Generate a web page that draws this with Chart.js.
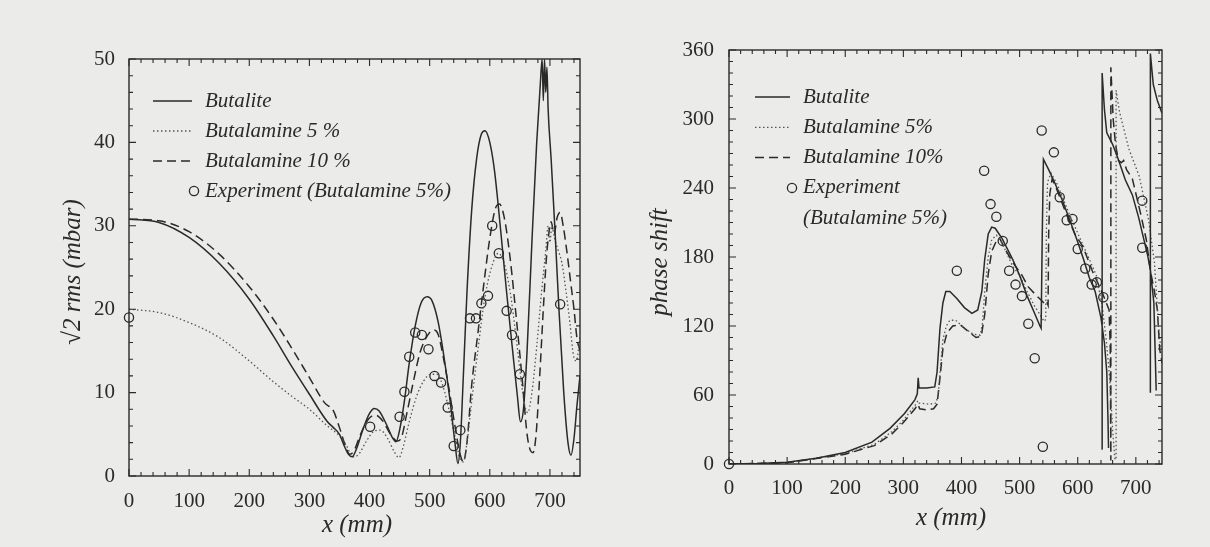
<!DOCTYPE html>
<html>
<head>
<meta charset="utf-8">
<script src="https://cdn.jsdelivr.net/npm/chart.js@4.4.1/dist/chart.umd.min.js"></script>
<style>
  html, body { margin: 0; padding: 0; background: #ebebea; }
  #wrap { position: relative; width: 1210px; height: 547px; overflow: hidden; }
  canvas { position: absolute; top: 0; }
  #amp { left: 0; }
  #phase { left: 600px; }
</style>
</head>
<body>
<div id="wrap">
  <canvas id="amp" width="600" height="547"></canvas>
  <canvas id="phase" width="610" height="547"></canvas>
</div>
<script>
// ---- amplitude panel, sqrt(2) rms in mbar vs x in mm ----
const ampButalite = [[0,30.8],[50,30.4],[100,28.6],[150,25.5],[200,21.2],[240,16.8],[270,13.2],[300,9.8],[330,6.5],[340,5.8],[350,5.0],[358,3.6],[365,2.6],[371,2.3],[378,3.2],[390,5.8],[400,7.5],[408,8.1],[416,7.8],[428,6.2],[438,4.6],[444,4.1],[450,5.5],[458,9],[466,13.5],[476,18],[486,20.8],[496,21.5],[504,21],[514,18.5],[524,14.2],[534,9],[542,4],[547,1.5],[551,4],[556,12],[562,22],[570,32],[578,38],[586,41],[592,41.4],[600,40],[608,36.5],[618,29.5],[628,22],[638,15],[646,9.5],[651,6.5],[656,8],[662,15],[670,28],[678,40],[684,47],[687,50],[689,45],[691,50],[693,46],[695,49],[697,44],[702,38],[708,30],[715,20],[723,10],[730,4],[735,2.5],[740,4.5],[745,8.5],[750,12]];
const ampButalamine5 = [[0,20],[50,19.6],[100,18.4],[150,16.6],[200,13.8],[240,11.3],[270,9.6],[300,8],[330,6],[350,4.8],[362,3.6],[372,2.3],[382,2.6],[395,4.2],[408,5.4],[418,5.5],[430,4.5],[442,2.8],[449,2.2],[456,3.5],[466,6.5],[478,9.5],[490,11.4],[502,12.2],[512,12.2],[522,10.8],[532,8],[542,4.8],[550,2.2],[556,1.7],[562,4],[570,9],[580,15],[592,21.5],[605,25.5],[614,26.7],[624,25.5],[634,22],[644,16.5],[652,11.5],[658,8.5],[663,7.6],[670,10],[678,15.5],[686,22],[693,27],[697,30],[700,28],[703,30],[708,28.4],[714,27],[720,25.5],[727,22],[733,18.5],[739,14.5],[744,13.8],[750,16.7]];
const ampButalamine10 = [[0,30.8],[50,30.6],[100,29.3],[150,26.6],[200,22.7],[240,18.8],[270,15.4],[300,11.8],[325,8.8],[340,7.8],[350,5.8],[360,3.6],[367,2.6],[374,3],[385,5],[398,6.8],[410,7.3],[422,6.6],[435,5],[446,4.2],[453,4.6],[462,7.5],[472,11],[484,14.8],[496,16.8],[506,17.5],[514,17],[522,14.5],[532,10.5],[542,6],[550,2.8],[556,1.7],[562,4],[570,11],[580,17],[590,23],[600,28.5],[609,32],[616,32.6],[624,31],[634,26],[644,19],[654,11.5],[662,5],[668,3],[672,2.8],[677,5],[683,12],[689,20],[694,26],[698,29],[702,30.5],[707,29],[712,31],[717,31.6],[722,30],[728,27],[734,23.5],[740,20],[745,16.5],[750,15]];
const ampExperiment = [[0,19],[401,5.9],[450,7.1],[458,10.1],[466,14.3],[476,17.2],[487,16.9],[498,15.2],[508,12],[519,11.2],[530,8.2],[540,3.6],[551,5.5],[567,18.9],[577,18.9],[586,20.7],[597,21.6],[604,30],[615,26.7],[628,19.8],[637,16.9],[650,12.2],[717,20.6]];

// ---- phase panel, degrees vs x in mm (null = pen up) ----
const phaseButalite = [[0,0],[50,0.4],[100,1.5],[150,5],[200,10],[246,19],[277,31],[302,44],[320,56],[324,61],[325.5,75],[327,66],[340,66],[354,67],[358,80],[363,118],[368,140],[373,150],[380,150],[392,144],[405,136],[418,131],[428,134],[435,150],[440,178],[446,200],[452,206],[458,205],[470,196],[488,178],[500,164],[513,146],[525,132],[535,120],[537,118],[539,200],[541,265],[550,256],[560,245],[573,230],[585,214],[600,193],[610,178],[620,162],[630,150],[640,127],[646,105],[650,80],[652,40],[653,14],[648,null],[643,13],[642,340],[646,308],[650,288],[660,278],[669,266],[682,247],[694,234],[705,214],[712,199],[720,182],[725,169],[731,140],[735,64],[730,null],[725,62],[725,357],[730,330],[737,316],[745,305]];
const phaseButalamine5 = [[0,0],[100,1.2],[200,9],[250,17],[280,28],[300,38],[320,51],[325,55],[327,53],[345,52],[356,53],[360,60],[364,85],[368,108],[374,120],[380,125],[390,125],[405,118],[420,113],[432,112],[436,122],[440,150],[446,180],[452,195],[460,199],[470,192],[488,172],[500,164],[513,150],[525,138],[535,130],[542,124],[545,126],[546,200],[548,245],[554,253],[565,243],[585,218],[605,195],[620,178],[632,164],[642,138],[649,108],[655,75],[660,30],[664,4],[666,4],[666,325],[672,306],[688,274],[706,250],[722,212],[732,175],[739,120],[743,100]];
const phaseButalamine10 = [[0,0],[100,1],[200,8.5],[250,16],[280,26],[300,36],[320,48],[325,52],[328,48],[340,47],[352,48],[358,52],[363,75],[368,100],[375,114],[385,120],[398,121],[410,116],[425,110],[434,111],[440,130],[446,165],[452,185],[460,194],[466,196],[476,186],[490,174],[503,165],[515,154],[526,148],[536,143],[542,140],[546,142],[549,138],[550,200],[552,235],[556,248],[563,240],[580,218],[595,200],[609,189],[625,168],[643,148],[654,134],[656,100],[657,3],[657,345],[661,300],[665,278],[670,264],[675,262],[679,264],[684,256],[694,248],[709,216],[718,195],[725,168],[732,150],[737,134],[741,100],[745,88]];
const phaseExperiment = [[0,0],[392,168],[439,255],[450,226],[460,215],[471,194],[482,168],[493,156],[504,146],[515,122],[526,92],[538,290],[540,15],[559,271],[569,232],[581,212],[591,213],[600,187],[613,170],[624,156],[633,158],[644,145],[711,229],[711,188]];

// ---- axis ticks ----
const xTicks = [0, 100, 200, 300, 400, 500, 600, 700];
const ampTicks = [0, 10, 20, 30, 40, 50];
const phaseTicks = [0, 60, 120, 180, 240, 300, 360];

const ink = '#2a2a2a';
const serif = '"Liberation Serif", "Times New Roman", serif';
Chart.defaults.font.family = serif;
Chart.defaults.color = ink;

const toPoints = arr => arr.map(([x, y]) => ({ x, y }));

function curve(data, style, smooth) {
  const ds = Object.assign({
    data: toPoints(data),
    showLine: true,
    pointRadius: 0,
    fill: false,
    tension: 0,
    spanGaps: false,
    borderColor: ink,
    borderWidth: 1.5
  }, style);
  // amplitude curves run left to right, so they can be smoothed
  if (smooth) ds.cubicInterpolationMode = 'monotone';
  return ds;
}

function circles(data) {
  return {
    data: toPoints(data),
    showLine: false,
    pointRadius: 4.6,
    pointStyle: 'circle',
    pointBorderColor: ink,
    pointBackgroundColor: 'rgba(0,0,0,0)',
    pointBorderWidth: 1.3,
    clip: false
  };
}

const solid = {};
const dotted = { borderColor: '#555', borderWidth: 1.3, borderDash: [1.5, 2.5] };
const dashed = { borderWidth: 1.5, borderDash: [9, 5] };

// frame, inward ticks, axis titles and the in-plot legend
const paperFrame = {
  id: 'paperFrame',
  afterDatasetsDraw(chart, args, o) {
    const { ctx, chartArea: a, scales: { x, y } } = chart;
    ctx.save();
    ctx.strokeStyle = ink;
    ctx.lineWidth = 1.4;
    ctx.strokeRect(a.left, a.top, a.right - a.left, a.bottom - a.top);

    ctx.lineWidth = 1.1;
    ctx.beginPath();
    for (let i = 0; i * o.xMinor <= x.max; i++) {
      const v = i * o.xMinor;
      const len = v % o.xMajor === 0 ? 7 : 4;
      const px = x.getPixelForValue(v);
      ctx.moveTo(px, a.bottom); ctx.lineTo(px, a.bottom - len);
      ctx.moveTo(px, a.top); ctx.lineTo(px, a.top + len);
    }
    for (let i = 0; i * o.yMinor <= y.max; i++) {
      const v = i * o.yMinor;
      const len = v % o.yMajor === 0 ? 7 : 4;
      const py = y.getPixelForValue(v);
      ctx.moveTo(a.left, py); ctx.lineTo(a.left + len, py);
      ctx.moveTo(a.right, py); ctx.lineTo(a.right - len, py);
    }
    ctx.stroke();

    ctx.fillStyle = ink;
    ctx.font = 'italic 25px ' + serif;
    ctx.textAlign = 'center';
    ctx.textBaseline = 'middle';
    ctx.fillText(o.xTitle, o.xTitleAt[0], o.xTitleAt[1]);
    ctx.save();
    ctx.translate(o.yTitleAt[0], o.yTitleAt[1]);
    ctx.rotate(-Math.PI / 2);
    ctx.fillText(o.yTitle, 0, 0);
    ctx.restore();

    // legend
    ctx.font = 'italic 21px ' + serif;
    ctx.textAlign = 'left';
    o.legend.forEach((row, i) => {
      const ly = o.legendY + i * o.legendGap;
      const ds = row.ds == null ? null : chart.data.datasets[row.ds];
      if (ds && ds.showLine) {
        ctx.save();
        ctx.strokeStyle = ds.borderColor;
        ctx.lineWidth = ds.borderWidth;
        ctx.setLineDash(ds.borderDash || []);
        ctx.beginPath();
        ctx.moveTo(o.legendLine[0], ly);
        ctx.lineTo(o.legendLine[1], ly);
        ctx.stroke();
        ctx.restore();
      } else if (ds) {
        ctx.beginPath();
        ctx.lineWidth = ds.pointBorderWidth;
        ctx.arc(o.legendCircleX, ly, ds.pointRadius, 0, Math.PI * 2);
        ctx.stroke();
      }
      ctx.fillText(row.text, o.legendText, ly);
    });
    ctx.restore();
  }
};

function makeChart(id, datasets, yMax, yTicks, box) {
  const tickFont = { family: serif, size: 21 };
  return new Chart(document.getElementById(id), {
    type: 'scatter',
    data: { datasets },
    plugins: [paperFrame],
    options: {
      responsive: false,
      animation: false,
      layout: { padding: { top: box.top, right: box.right, left: 0, bottom: 0 } },
      plugins: {
        legend: { display: false },
        tooltip: { enabled: false },
        paperFrame: box.frame
      },
      scales: {
        x: {
          type: 'linear', min: 0, max: box.xMax,
          afterBuildTicks: s => { s.ticks = xTicks.map(v => ({ value: v })); },
          afterFit: s => { s.height = box.xHeight; },
          ticks: { font: tickFont, color: ink, padding: box.xPad, maxRotation: 0, autoSkip: false },
          grid: { display: false, drawTicks: false },
          border: { display: false }
        },
        y: {
          type: 'linear', min: 0, max: yMax,
          afterBuildTicks: s => { s.ticks = yTicks.map(v => ({ value: v })); },
          afterFit: s => { s.width = box.yWidth; },
          ticks: { font: tickFont, color: ink, padding: box.yPad, autoSkip: false },
          grid: { display: false, drawTicks: false },
          border: { display: false }
        }
      }
    }
  });
}

makeChart('amp', [
  curve(ampButalite, solid, true),
  curve(ampButalamine5, dotted, true),
  curve(ampButalamine10, dashed, true),
  circles(ampExperiment)
], 50, ampTicks, {
  top: 59, right: 20, xHeight: 71, yWidth: 129, xMax: 750, xPad: 13, yPad: 14,
  frame: {
    xMinor: 20, xMajor: 100, yMinor: 2, yMajor: 10,
    xTitle: 'x (mm)', xTitleAt: [357, 525],
    yTitle: '√2 rms (mbar)', yTitleAt: [73, 272],
    legendLine: [153, 192], legendText: 205, legendCircleX: 194,
    legendY: 101, legendGap: 30,
    legend: [
      { ds: 0, text: 'Butalite' },
      { ds: 1, text: 'Butalamine 5 %' },
      { ds: 2, text: 'Butalamine 10 %' },
      { ds: 3, text: 'Experiment (Butalamine 5%)' }
    ]
  }
});

makeChart('phase', [
  curve(phaseButalite, solid, false),
  curve(phaseButalamine5, dotted, false),
  curve(phaseButalamine10, dashed, false),
  circles(phaseExperiment)
], 360, phaseTicks, {
  top: 50, right: 48, xHeight: 83, yWidth: 129, xMax: 745, xPad: 12, yPad: 15,
  frame: {
    xMinor: 20, xMajor: 100, yMinor: 10, yMajor: 60,
    xTitle: 'x (mm)', xTitleAt: [351, 518],
    yTitle: 'phase shift', yTitleAt: [60, 262],
    legendLine: [155, 190], legendText: 203, legendCircleX: 192,
    legendY: 97, legendGap: 30.3,
    legend: [
      { ds: 0, text: 'Butalite' },
      { ds: 1, text: 'Butalamine 5%' },
      { ds: 2, text: 'Butalamine 10%' },
      { ds: 3, text: 'Experiment' },
      { ds: null, text: '(Butalamine 5%)' }
    ]
  }
});
</script>
</body>
</html>
